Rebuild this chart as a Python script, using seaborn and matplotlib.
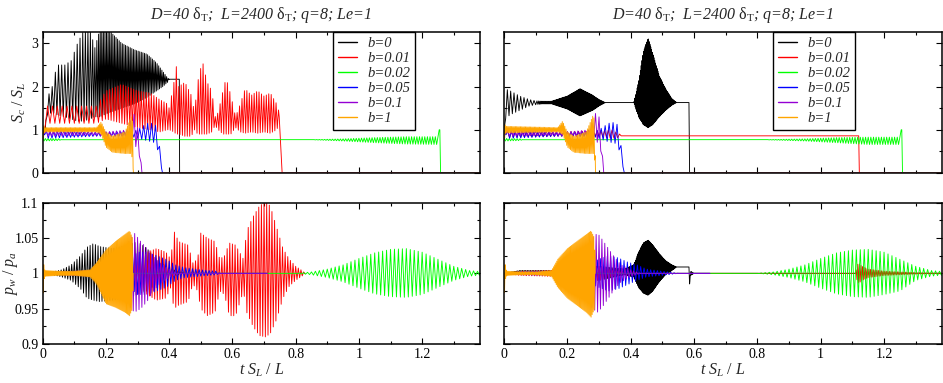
import numpy as np
import matplotlib
matplotlib.use("Agg")
import matplotlib.pyplot as plt
from matplotlib.lines import Line2D
from matplotlib.ticker import MultipleLocator
import seaborn as sns

# ---------------- data ----------------
labels = ["b=0", "b=0.01", "b=0.02", "b=0.05", "b=0.1", "b=1"]
colors = ["#000000", "#ff0000", "#00ff00", "#0000ff", "#9400d3", "#ffa500"]

title_text = "D=40 $\\mathrm{δ_T}$;  L=2400 $\\mathrm{δ_T}$; q=8; Le=1"
ylabel_top = "$S_c\\ /\\ S_L$"
ylabel_bot = "$p_w\\ /\\ p_a$"
xlabel_text = "$t\\ S_L\\ /\\ L$"

x_ticks = [0, 0.2, 0.4, 0.6, 0.8, 1.0, 1.2]
x_tick_labels = ["0", "0.2", "0.4", "0.6", "0.8", "1", "1.2"]
sc_ticks = [0, 1, 2, 3]
sc_tick_labels = ["0", "1", "2", "3"]
p_ticks = [0.9, 0.95, 1.0, 1.05, 1.1]
p_tick_labels = ["0.9", "0.95", "1", "1.05", "1.1"]

# Envelope knots of each oscillating trace: (t, upper, lower, cycles per unit t)
# ---- S_c/S_L, left panel
sc_L_b0 = [(0, 1.0, 1.0, 100), (0.008, 1.0, 1.0, 100), (0.015, 1.75, 1.35, 100), (0.03, 2.0, 1.4, 100),
           (0.045, 2.5, 1.35, 100), (0.07, 2.5, 1.3, 100), (0.09, 2.6, 1.25, 100), (0.11, 3.0, 1.2, 110),
           (0.13, 3.3, 1.2, 120), (0.15, 3.3, 1.25, 130), (0.165, 2.9, 1.3, 150), (0.18, 3.3, 1.3, 200),
           (0.21, 3.3, 1.4, 200), (0.25, 3.0, 1.5, 200), (0.29, 2.85, 1.6, 200), (0.33, 2.75, 1.75, 200),
           (0.36, 2.55, 1.9, 200), (0.38, 2.35, 2.0, 200), (0.395, 2.2, 2.1, 200), (0.40, 2.17, 2.17, 200),
           (0.432, 2.17, 2.17, 200), (0.433, 0, 0, 200), (1.4, 0, 0, 200)]
sc_L_b001 = [(0, 1.0, 1.0, 65), (0.015, 1.55, 1.15, 65), (0.17, 1.55, 1.15, 65), (0.2, 1.9, 1.25, 110),
             (0.25, 2.05, 1.15, 120), (0.3, 1.9, 1.05, 125), (0.34, 1.85, 1.0, 125), (0.37, 1.7, 0.95, 125),
             (0.395, 1.6, 1.0, 125), (0.40, 1.5, 1.0, 130), (0.415, 2.1, 0.95, 130), (0.422, 2.5, 0.9, 130),
             (0.43, 2.0, 0.9, 130), (0.45, 2.1, 0.85, 130), (0.47, 1.8, 0.85, 130), (0.48, 1.4, 1.0, 130),
             (0.49, 2.1, 0.9, 130), (0.505, 2.6, 0.9, 130), (0.52, 2.1, 0.9, 130), (0.535, 1.9, 0.95, 130),
             (0.545, 1.3, 1.1, 130), (0.555, 1.4, 1.0, 130), (0.57, 1.9, 0.9, 130), (0.58, 2.2, 0.9, 130),
             (0.595, 1.8, 0.9, 130), (0.61, 1.3, 1.05, 130), (0.625, 1.6, 0.95, 130), (0.64, 1.95, 0.92, 130),
             (0.66, 1.8, 0.95, 130), (0.68, 1.9, 0.92, 130), (0.70, 1.78, 0.95, 130), (0.72, 1.85, 0.92, 130),
             (0.74, 1.6, 1.0, 130), (0.746, 1.45, 1.1, 130),
             (0.748, 1.3, 1.3, 130), (0.757, 0, 0, 130), (1.4, 0, 0, 130)]
sc_L_b002 = [(0, 0.8, 0.74, 120), (0.05, 0.79, 0.75, 120), (0.06, 0.77, 0.77, 120), (0.85, 0.77, 0.77, 120),
             (0.95, 0.79, 0.74, 120), (1.05, 0.82, 0.70, 120), (1.15, 0.84, 0.67, 120), (1.25, 0.84, 0.66, 120),
             (1.254, 1.0, 1.0, 120), (1.256, 1.0, 1.0, 120), (1.258, 0, 0, 120), (1.4, 0, 0, 120)]
sc_L_b005 = [(0, 1.0, 1.0, 85), (0.01, 0.97, 0.8, 85), (0.17, 0.93, 0.85, 85), (0.2, 0.95, 0.85, 85),
             (0.28, 0.95, 0.85, 85), (0.3, 1.0, 0.8, 80), (0.33, 1.15, 0.75, 80), (0.355, 1.15, 0.7, 80),
             (0.365, 0.9, 0.5, 80), (0.379, 0, 0, 80), (1.4, 0, 0, 80)]
sc_L_b01 = [(0, 1.0, 1.0, 90), (0.01, 0.98, 0.85, 90), (0.17, 0.95, 0.87, 90), (0.2, 0.95, 0.85, 90),
            (0.27, 1.0, 0.85, 90), (0.285, 1.4, 0.8, 90), (0.295, 1.3, 0.6, 90), (0.303, 0.9, 0.5, 90),
            (0.308, 0.5, 0.3, 90), (0.314, 0, 0, 90), (1.4, 0, 0, 90)]
sc_L_b1 = [(0, 1.1, 0.6, 250), (0.003, 1.1, 0.9, 250), (0.008, 1.05, 0.95, 250), (0.17, 1.05, 0.95, 250),
           (0.185, 1.18, 0.9, 250), (0.2, 0.95, 0.6, 250), (0.22, 0.85, 0.48, 250), (0.26, 0.95, 0.45, 250),
           (0.28, 1.3, 0.45, 250), (0.284, 1.2, 0.3, 250), (0.287, 0, 0, 250), (1.4, 0, 0, 250)]

# ---- S_c/S_L, right panel
sc_R_b0 = [(0, 1.0, 1.0, 95), (0.003, 1.95, 1.25, 95), (0.02, 1.9, 1.35, 95), (0.05, 1.78, 1.45, 95),
           (0.08, 1.7, 1.55, 95), (0.1, 1.67, 1.58, 95), (0.12, 1.66, 1.6, 350), (0.15, 1.66, 1.6, 350),
           (0.2, 1.78, 1.48, 350), (0.24, 1.95, 1.32, 350), (0.28, 1.8, 1.45, 350), (0.30, 1.7, 1.55, 350),
           (0.32, 1.63, 1.63, 350), (0.41, 1.63, 1.63, 400), (0.425, 2.1, 1.3, 400), (0.44, 2.8, 1.12, 400),
           (0.455, 3.12, 1.05, 400), (0.47, 2.75, 1.12, 400), (0.49, 2.25, 1.3, 400), (0.51, 1.95, 1.45, 400),
           (0.53, 1.72, 1.57, 400), (0.545, 1.63, 1.63, 400), (0.584, 1.63, 1.63, 400), (0.586, 0, 0, 400),
           (1.4, 0, 0, 400)]
sc_R_b001 = [(0, 1.0, 1.0, 85), (0.01, 0.97, 0.82, 85), (0.17, 0.95, 0.85, 85), (0.3, 0.98, 0.85, 85),
             (0.34, 1.0, 0.8, 85), (0.365, 0.9, 0.82, 85), (0.37, 0.86, 0.86, 85), (1.12, 0.86, 0.86, 85),
             (1.122, 0, 0, 85), (1.4, 0, 0, 85)]
sc_R_b002 = [(0, 0.8, 0.74, 120), (0.05, 0.79, 0.75, 120), (0.06, 0.77, 0.77, 120), (0.82, 0.77, 0.77, 120),
             (0.95, 0.79, 0.74, 120), (1.05, 0.82, 0.70, 120), (1.15, 0.83, 0.66, 120), (1.25, 0.83, 0.66, 120),
             (1.254, 1.0, 1.0, 120), (1.256, 1.0, 1.0, 120), (1.258, 0, 0, 120), (1.4, 0, 0, 120)]
sc_R_b005 = [(0, 1.0, 1.0, 85), (0.01, 0.97, 0.8, 85), (0.17, 0.93, 0.85, 85), (0.2, 0.95, 0.85, 85),
             (0.28, 0.95, 0.85, 85), (0.3, 1.0, 0.8, 80), (0.33, 1.15, 0.72, 80), (0.355, 1.18, 0.68, 80),
             (0.365, 0.9, 0.5, 80), (0.38, 0, 0, 80), (1.4, 0, 0, 80)]
sc_R_b01 = [(0, 1.0, 1.0, 90), (0.01, 0.98, 0.85, 90), (0.17, 0.95, 0.87, 90), (0.2, 0.95, 0.85, 90),
            (0.27, 1.0, 0.85, 90), (0.29, 1.4, 0.8, 90), (0.3, 1.3, 0.6, 90), (0.306, 0.9, 0.5, 90),
            (0.31, 0.5, 0.3, 90), (0.315, 0, 0, 90), (1.4, 0, 0, 90)]
sc_R_b1 = [(0, 1.1, 0.6, 250), (0.003, 1.12, 0.9, 250), (0.008, 1.08, 0.93, 250), (0.17, 1.05, 0.95, 250),
           (0.185, 1.2, 0.9, 250), (0.2, 0.95, 0.6, 250), (0.22, 0.85, 0.48, 250), (0.26, 0.95, 0.45, 250),
           (0.282, 1.35, 0.45, 250), (0.286, 1.2, 0.3, 250), (0.289, 0, 0, 250), (1.4, 0, 0, 250)]

# ---- p_w/p_a, left panel
p_L_b0 = [(0, 1.0, 1.0, 120), (0.03, 1.002, 0.998, 120), (0.06, 1.005, 0.995, 120), (0.09, 1.012, 0.99, 120),
          (0.12, 1.025, 0.978, 120), (0.14, 1.037, 0.965, 120), (0.16, 1.042, 0.962, 120),
          (0.18, 1.038, 0.96, 120), (0.22, 1.035, 0.962, 120), (0.27, 1.04, 0.965, 120),
          (0.30, 1.045, 0.97, 120), (0.33, 1.035, 0.975, 120), (0.36, 1.02, 0.985, 120),
          (0.39, 1.01, 0.993, 120), (0.42, 1.004, 0.997, 120), (0.45, 1.0, 1.0, 120), (0.71, 1.0, 1.0, 120)]
p_L_b001 = [(0, 1.0, 1.0, 120), (0.05, 1.002, 0.998, 120), (0.15, 1.004, 0.996, 120), (0.25, 1.008, 0.992, 120),
            (0.3, 1.012, 0.988, 120), (0.33, 1.03, 0.97, 120), (0.36, 1.035, 0.962, 120), (0.39, 1.03, 0.965, 120),
            (0.405, 1.02, 0.98, 120), (0.415, 1.06, 0.95, 120), (0.43, 1.045, 0.955, 120), (0.46, 1.04, 0.96, 120),
            (0.475, 1.015, 0.985, 120), (0.49, 1.02, 0.975, 120), (0.5, 1.057, 0.95, 120), (0.52, 1.05, 0.94, 120),
            (0.545, 1.045, 0.945, 120), (0.56, 1.02, 0.975, 120), (0.575, 1.025, 0.97, 120),
            (0.59, 1.043, 0.94, 120), (0.61, 1.04, 0.94, 120), (0.635, 1.02, 0.975, 120),
            (0.645, 1.06, 0.945, 120), (0.665, 1.08, 0.925, 120), (0.685, 1.095, 0.912, 120),
            (0.705, 1.102, 0.91, 120), (0.72, 1.095, 0.915, 120), (0.74, 1.065, 0.935, 120),
            (0.76, 1.035, 0.965, 120), (0.78, 1.02, 0.982, 120), (0.8, 1.01, 0.99, 120),
            (0.82, 1.004, 0.996, 120), (0.83, 1.0, 1.0, 120)]
p_L_b002 = [(0, 1.0, 1.0, 80), (0.05, 1.002, 0.998, 80), (0.3, 1.0, 1.0, 80), (0.8, 1.0, 1.0, 80),
            (0.85, 1.002, 0.998, 80), (0.9, 1.006, 0.994, 80), (0.95, 1.012, 0.988, 80),
            (1.0, 1.021, 0.979, 80), (1.05, 1.029, 0.971, 80), (1.1, 1.034, 0.967, 80),
            (1.15, 1.035, 0.966, 80), (1.2, 1.03, 0.97, 80), (1.25, 1.02, 0.98, 80), (1.3, 1.01, 0.99, 80),
            (1.35, 1.004, 0.996, 80), (1.4, 1.002, 0.998, 80)]
p_L_b005 = [(0, 1.0, 1.0, 95), (0.05, 1.002, 0.998, 95), (0.15, 1.004, 0.996, 95), (0.25, 1.01, 0.99, 95),
            (0.3, 1.03, 0.97, 95), (0.33, 1.03, 0.97, 95), (0.36, 1.025, 0.975, 95), (0.39, 1.02, 0.98, 95),
            (0.42, 1.012, 0.99, 95), (0.45, 1.008, 0.994, 95), (0.5, 1.005, 0.996, 95),
            (0.55, 1.003, 0.998, 95), (0.56, 1.0, 1.0, 95), (0.71, 1.0, 1.0, 95)]
p_L_b01 = [(0, 1.0, 1.0, 110), (0.05, 1.002, 0.998, 110), (0.15, 1.004, 0.996, 110), (0.25, 1.03, 0.97, 110),
           (0.28, 1.05, 0.95, 110), (0.29, 1.057, 0.945, 110), (0.31, 1.045, 0.95, 110), (0.33, 1.035, 0.96, 110),
           (0.35, 1.025, 0.975, 110), (0.37, 1.015, 0.985, 110), (0.4, 1.006, 0.994, 110),
           (0.43, 1.0, 1.0, 110), (0.71, 1.0, 1.0, 110)]
p_L_b1 = [(0, 1.0, 1.0, 300), (0.002, 1.017, 0.967, 300), (0.004, 1.01, 0.99, 300), (0.006, 1.005, 0.995, 300),
          (0.01, 1.004, 0.996, 300), (0.05, 1.003, 0.997, 300), (0.1, 1.003, 0.997, 300),
          (0.15, 1.005, 0.995, 300), (0.17, 1.015, 0.985, 300), (0.2, 1.033, 0.957, 300),
          (0.23, 1.045, 0.952, 300), (0.26, 1.055, 0.945, 300), (0.275, 1.06, 0.94, 300),
          (0.284, 1.05, 0.95, 300), (0.286, 1.0, 1.0, 300)]

# ---- p_w/p_a, right panel
p_R_b0 = [(0, 1.0, 1.0, 120), (0.05, 1.004, 1.003, 120), (0.1, 1.004, 1.003, 120), (0.15, 1.004, 1.003, 120),
          (0.2, 1.01, 0.99, 120), (0.3, 1.01, 0.99, 120), (0.38, 1.006, 0.998, 400), (0.41, 1.012, 0.995, 400),
          (0.425, 1.03, 0.98, 400), (0.44, 1.043, 0.972, 400), (0.455, 1.047, 0.969, 400),
          (0.47, 1.04, 0.975, 400), (0.49, 1.028, 0.988, 400), (0.51, 1.018, 0.998, 400),
          (0.53, 1.012, 1.004, 400), (0.545, 1.009, 1.009, 400), (0.584, 1.009, 1.009, 400),
          (0.586, 0.985, 0.985, 400), (0.589, 1.003, 0.997, 400), (0.6, 1.0, 1.0, 400), (1.4, 1.0, 1.0, 400)]
p_R_b001 = [(0, 1.0, 1.0, 120), (0.05, 1.003, 0.997, 120), (0.2, 1.005, 0.995, 120), (0.3, 1.01, 0.99, 120),
            (0.35, 1.003, 0.997, 120), (0.4, 1.0, 1.0, 120), (1.11, 1.0, 1.0, 200), (1.115, 1.012, 0.99, 200),
            (1.12, 1.014, 0.986, 200), (1.13, 1.01, 0.99, 200), (1.15, 1.006, 0.994, 200),
            (1.2, 1.003, 0.997, 200), (1.25, 1.002, 0.998, 200), (1.3, 1.001, 0.999, 200), (1.4, 1.0, 1.0, 200)]
p_R_b002 = [(0, 1.0, 1.0, 80), (0.05, 1.002, 0.998, 80), (0.3, 1.0, 1.0, 80), (0.8, 1.0, 1.0, 80),
            (0.85, 1.002, 0.998, 80), (0.9, 1.006, 0.994, 80), (0.95, 1.012, 0.988, 80),
            (1.0, 1.021, 0.979, 80), (1.05, 1.029, 0.971, 80), (1.1, 1.033, 0.967, 80),
            (1.15, 1.034, 0.966, 80), (1.2, 1.03, 0.97, 80), (1.25, 1.02, 0.975, 80), (1.3, 1.01, 0.99, 80),
            (1.35, 1.004, 0.996, 80), (1.4, 1.002, 0.998, 80)]
p_R_b005 = [(0, 1.0, 1.0, 95), (0.05, 1.002, 0.998, 95), (0.15, 1.003, 0.997, 95), (0.25, 1.01, 0.99, 95),
            (0.3, 1.02, 0.98, 95), (0.33, 1.025, 0.975, 95), (0.36, 1.022, 0.978, 95), (0.39, 1.016, 0.984, 95),
            (0.42, 1.012, 0.99, 95), (0.45, 1.006, 0.995, 95), (0.5, 1.003, 0.997, 95), (0.55, 1.0, 1.0, 95),
            (0.65, 1.0, 1.0, 95)]
p_R_b01 = [(0, 1.0, 1.0, 110), (0.05, 1.002, 0.998, 110), (0.15, 1.003, 0.997, 110), (0.25, 1.03, 0.97, 110),
           (0.28, 1.05, 0.95, 110), (0.295, 1.057, 0.945, 110), (0.31, 1.048, 0.952, 110),
           (0.33, 1.035, 0.965, 110), (0.35, 1.022, 0.978, 110), (0.37, 1.012, 0.988, 110),
           (0.4, 1.005, 0.995, 110), (0.43, 1.0, 1.0, 110), (0.65, 1.0, 1.0, 110)]
p_R_b1 = [(0, 1.0, 1.0, 300), (0.002, 1.017, 0.968, 300), (0.004, 1.01, 0.99, 300), (0.006, 1.005, 0.995, 300),
          (0.01, 1.003, 0.997, 300), (0.05, 1.002, 0.998, 300), (0.1, 1.002, 0.998, 300),
          (0.15, 1.004, 0.996, 300), (0.17, 1.02, 0.98, 300), (0.2, 1.035, 0.965, 300),
          (0.23, 1.045, 0.955, 300), (0.26, 1.055, 0.945, 300), (0.275, 1.06, 0.938, 300),
          (0.286, 1.05, 0.95, 300), (0.288, 1.0, 1.0, 300)]

panels = {
    "TL": [sc_L_b0, sc_L_b001, sc_L_b002, sc_L_b005, sc_L_b01, sc_L_b1],
    "TR": [sc_R_b0, sc_R_b001, sc_R_b002, sc_R_b005, sc_R_b01, sc_R_b1],
    "BL": [p_L_b0, p_L_b001, p_L_b002, p_L_b005, p_L_b01, p_L_b1],
    "BR": [p_R_b0, p_R_b001, p_R_b002, p_R_b005, p_R_b01, p_R_b1],
}


def trace(knots):
    """Turn envelope knots into the oscillating trace (alternating upper/lower peaks)."""
    k = np.array(knots, float)
    tk, hk, lk, fk = k.T
    dt = 2e-5
    T = np.arange(tk[0], tk[-1] + dt / 2, dt)
    f = np.interp(T, tk, fk)
    ph = np.concatenate([[0.0], np.cumsum(2 * f[:-1] * dt)])
    n = np.floor(ph).astype(int)
    sel = np.concatenate([[True], np.diff(n) > 0])
    sel[-1] = True
    ts, ns = T[sel], n[sel]
    hi = np.interp(ts, tk, hk)
    lo = np.interp(ts, tk, lk)
    vs = np.where(ns % 2 == 0, hi, lo)
    flat = hk == lk
    ts = np.concatenate([ts, tk[flat]])
    vs = np.concatenate([vs, hk[flat]])
    order = np.argsort(ts, kind="stable")
    return ts[order], vs[order]


# ---------------- style ----------------
sns.set_theme(style="ticks")
plt.rcParams["font.family"] = ["Liberation Serif", "DejaVu Serif"]
plt.rcParams["mathtext.fontset"] = "custom"
plt.rcParams["mathtext.rm"] = "Liberation Serif"
plt.rcParams["mathtext.it"] = "Liberation Serif:italic"
plt.rcParams["mathtext.bf"] = "Liberation Serif:bold"

fig = plt.figure(figsize=(9.43, 3.83), dpi=100)
W, H = 943, 383
def px_axes(x0, y0, x1, y1):
    return fig.add_axes([x0 / W, 1 - y1 / H, (x1 - x0) / W, (y1 - y0) / H])

axes = {
    "TL": px_axes(42.7, 31.7, 480, 173),
    "TR": px_axes(504, 31.7, 942, 173),
    "BL": px_axes(42.7, 202.7, 480, 344),
    "BR": px_axes(504, 202.7, 942, 344),
}

for key, ax in axes.items():
    for knots, col in zip(panels[key], colors):
        t, v = trace(knots)
        sns.lineplot(x=t, y=v, ax=ax, color=col, linewidth=0.65, estimator=None,
                     sort=False, legend=False)
    ax.set_xlim(0, 1.383)
    ax.set_xticks(x_ticks)
    ax.xaxis.set_minor_locator(MultipleLocator(0.1))
    if key.startswith("T"):
        ax.set_ylim(0, 3.27)
        ax.set_yticks(sc_ticks)
        ax.yaxis.set_minor_locator(MultipleLocator(0.5))
        ax.set_xticklabels([])
        ax.set_title(title_text, fontsize=11.5, style="italic", pad=9)
    else:
        ax.set_ylim(0.9, 1.1)
        ax.set_yticks(p_ticks)
        ax.yaxis.set_minor_locator(MultipleLocator(0.025))
        ax.set_xticklabels(x_tick_labels)
        ax.set_xlabel(xlabel_text, fontsize=11.5, labelpad=0)
    if key.endswith("L"):
        if key.startswith("T"):
            ax.set_yticklabels(sc_tick_labels)
            ax.set_ylabel(ylabel_top, fontsize=11.5)
            ax.yaxis.set_label_coords(-0.034, 0.5)
        else:
            ax.set_yticklabels(p_tick_labels)
            ax.set_ylabel(ylabel_bot, fontsize=11.5)
            ax.yaxis.set_label_coords(-0.053, 0.5)
    else:
        ax.set_yticklabels([])
        ax.set_ylabel("")
    ax.tick_params(which="both", direction="in", top=True, right=True, labelsize=10,
                   colors="black", width=0.8, pad=3)
    ax.tick_params(which="major", length=4.5)
    ax.tick_params(which="minor", length=2.3)
    for s in ax.spines.values():
        s.set_visible(True)
        s.set_linewidth(1.1)
        s.set_color("black")

handles = [Line2D([0], [0], color=c, lw=1.0) for c in colors]
for key, xanchor in (("TL", 0.664), ("TR", 0.614)):
    leg = axes[key].legend(handles, labels, loc="upper left", bbox_to_anchor=(xanchor, 1.0),
                           borderaxespad=0, frameon=True, fancybox=False, framealpha=1,
                           edgecolor="black", prop={"style": "italic", "size": 10.5},
                           handlelength=1.3, handletextpad=0.7, labelspacing=0.12,
                           borderpad=0.35)
    leg.get_frame().set_linewidth(1.0)

fig.savefig("out.png", dpi=100)
